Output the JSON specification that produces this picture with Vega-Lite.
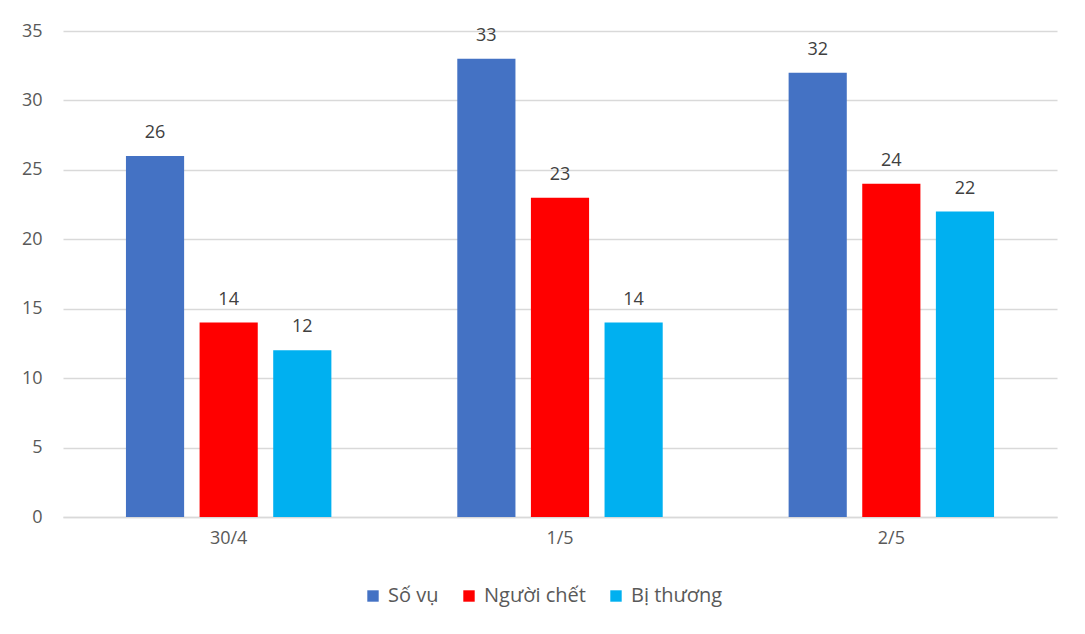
{
  "$schema": "https://vega.github.io/schema/vega-lite/v6.json",
  "width": 994,
  "height": 486,
  "autosize": {"type": "none"},
  "padding": {"left": 63, "top": 31, "right": 28, "bottom": 117},
  "background": "white",
  "config": {
    "font": "Open Sans",
    "view": {"stroke": null}
  },
  "data": {
    "values": [
      {"ngay": "30/4", "loai": "Số vụ", "gt": 26},
      {"ngay": "30/4", "loai": "Người chết", "gt": 14},
      {"ngay": "30/4", "loai": "Bị thương", "gt": 12},
      {"ngay": "1/5", "loai": "Số vụ", "gt": 33},
      {"ngay": "1/5", "loai": "Người chết", "gt": 23},
      {"ngay": "1/5", "loai": "Bị thương", "gt": 14},
      {"ngay": "2/5", "loai": "Số vụ", "gt": 32},
      {"ngay": "2/5", "loai": "Người chết", "gt": 24},
      {"ngay": "2/5", "loai": "Bị thương", "gt": 22}
    ]
  },
  "encoding": {
    "x": {
      "field": "ngay", "type": "nominal", "sort": ["30/4", "1/5", "2/5"],
      "scale": {"paddingInner": 0.38, "paddingOuter": 0.19},
      "axis": {"title": null, "labelAngle": 0, "ticks": false, "domainColor": "#d9d9d9", "domainWidth": 1.5, "labelPadding": 12,
               "labelFontSize": 18, "labelColor": "#595959", "labelFont": "Open Sans"}
    },
    "xOffset": {
      "field": "loai", "type": "nominal", "sort": ["Số vụ", "Người chết", "Bị thương"],
      "scale": {"paddingInner": 0.21, "paddingOuter": 0}
    },
    "y": {
      "field": "gt", "type": "quantitative",
      "scale": {"domain": [0, 35]},
      "axis": {"title": null, "values": [0,5,10,15,20,25,30,35], "labelOverlap": false, "domain": false, "ticks": false,
               "gridColor": "#d9d9d9", "gridWidth": 1.5, "labelPadding": 21,
               "labelFontSize": 18, "labelColor": "#595959", "labelFont": "Open Sans"}
    }
  },
  "layer": [
    {
      "mark": {"type": "bar"},
      "encoding": {
        "color": {
          "field": "loai", "type": "nominal", "sort": ["Số vụ", "Người chết", "Bị thương"],
          "scale": {"domain": ["Số vụ", "Người chết", "Bị thương"], "range": ["#4472C4", "#FF0000", "#00B0F0"]},
          "legend": {
            "title": null, "orient": "none", "legendX": 300, "legendY": 555, "direction": "horizontal",
            "symbolType": "square", "symbolSize": 130, "symbolStrokeWidth": 0,
            "labelFontSize": 20, "labelColor": "#595959", "labelFont": "Open Sans",
            "columnPadding": 20, "labelOffset": 5
          }
        }
      }
    },
    {
      "mark": {"type": "text", "baseline": "bottom", "dy": -14, "fontSize": 18, "color": "#404040", "font": "Open Sans"},
      "encoding": {"text": {"field": "gt", "type": "quantitative"}}
    }
  ]
}
